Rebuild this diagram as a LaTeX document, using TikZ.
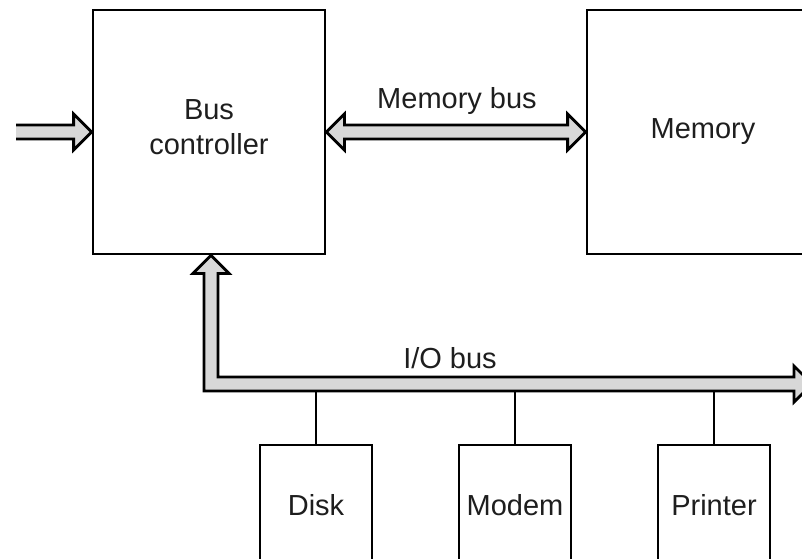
\documentclass[tikz,border=0pt]{standalone}
\usepackage{fontspec}
\setmainfont{Liberation Sans}
\usetikzlibrary{calc}
\definecolor{busgray}{RGB}{216,216,216}
\definecolor{ink}{RGB}{30,30,30}
\tikzset{
  unitbox/.style={draw, line width=2.8pt, minimum width=232pt, minimum height=244pt,
    inner sep=0pt, align=center, text=ink, font=\fontsize{29}{35}\selectfont},
  devbox/.style={draw, line width=2.8pt, minimum width=112pt, minimum height=120pt,
    inner sep=0pt, text=ink, font=\fontsize{29}{35}\selectfont},
  busarrow/.style={fill=busgray, draw=black, line width=2.8pt, line join=miter},
  tap/.style={line width=2.4pt},
  buslabel/.style={text=ink, font=\fontsize{29}{35}\selectfont}
}
\begin{document}
\begin{tikzpicture}[x=1pt,y=-1pt]
\clip (0,0) rectangle (802,558);
% arrow geometry: head length, head half-width, shaft half-width
\def\L{18}\def\H{18}\def\h{7}

% main units
\node[unitbox, text depth=10pt] (bc) at (209,132) {Bus\\controller};
\node[unitbox] (mem) at (703,132) {Memory};

% peripherals
\node[devbox] (disk) at (316,505) {Disk};
\node[devbox] (modem) at (515,505) {Modem};
\node[devbox] (printer) at (714,505) {Printer};

% incoming bus on the left (open tail)
\coordinate (in) at (16,132);
\filldraw[busarrow] ($(in)+(0,-\h)$) -- ($(bc.west)+(-\L,-\h)$) -- ($(bc.west)+(-\L,-\H)$)
  -- (bc.west) -- ($(bc.west)+(-\L,\H)$) -- ($(bc.west)+(-\L,\h)$) -- ($(in)+(0,\h)$);

% memory bus, two-headed
\filldraw[busarrow] (bc.east) -- ($(bc.east)+(\L,-\H)$) -- ($(bc.east)+(\L,-\h)$)
  -- ($(mem.west)+(-\L,-\h)$) -- ($(mem.west)+(-\L,-\H)$) -- (mem.west)
  -- ($(mem.west)+(-\L,\H)$) -- ($(mem.west)+(-\L,\h)$)
  -- ($(bc.east)+(\L,\h)$) -- ($(bc.east)+(\L,\H)$) -- cycle;
\node[buslabel] (mlabel) at (457,101) {Memory bus};

% I/O bus: up into the controller, along the bottom to the right
\coordinate (iocorner) at (211,384);
\coordinate (ioend) at (812,384);
\coordinate (iotip) at (bc.south -| iocorner);
\filldraw[busarrow] (iotip) -- ($(iotip)+(\H,\L)$) -- ($(iotip)+(\h,\L)$)
  -- ($(iocorner)+(\h,-\h)$) -- ($(ioend)+(-\L,-\h)$) -- ($(ioend)+(-\L,-\H)$)
  -- (ioend) -- ($(ioend)+(-\L,\H)$) -- ($(ioend)+(-\L,\h)$)
  -- ($(iocorner)+(-\h,\h)$) -- ($(iotip)+(-\h,\L)$) -- ($(iotip)+(-\H,\L)$) -- cycle;
\node[buslabel] (iolabel) at (450,358) {I/O bus};

% taps from the I/O bus to the peripherals
\coordinate (iobot) at ($(iocorner)+(0,\h)$);
\draw[tap] (disk.north) -- (disk.north |- iobot);
\draw[tap] (modem.north) -- (modem.north |- iobot);
\draw[tap] (printer.north) -- (printer.north |- iobot);
\end{tikzpicture}
\end{document}
